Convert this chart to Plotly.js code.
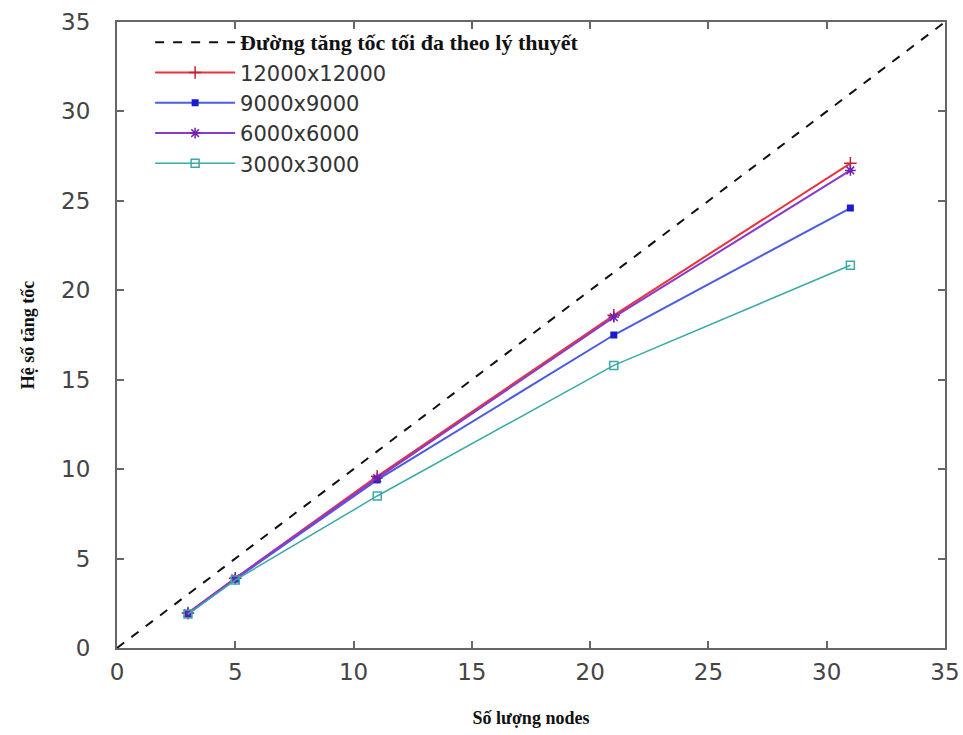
<!DOCTYPE html>
<html><head><meta charset="utf-8">
<script src="https://cdn.plot.ly/plotly-3.0.1.min.js"></script>
<style>body{margin:0;background:#fff}#c{width:963px;height:735px}</style>
</head><body><div id="c"></div>
<script>
const nodes = [3, 5, 11, 21, 31];
const idealX = [0, 35];
const idealY = [0, 35];
const s12000 = [1.95, 3.9, 9.6, 18.6, 27.1];
const s9000 = [1.9, 3.85, 9.4, 17.5, 24.6];
const s6000 = [1.95, 3.9, 9.5, 18.5, 26.7];
const s3000 = [1.9, 3.8, 8.5, 15.8, 21.4];
const names = ['<span style="font-family:\'Liberation Serif\';font-weight:bold;font-size:22px;color:#111">Đường tăng tốc tối đa theo lý thuyết</span>',
  '12000x12000', '9000x9000', '6000x6000', '3000x3000'];

const traces = [
  {x: idealX, y: idealY, mode: 'lines', name: names[0], line: {color: '#111', dash: 'dash', width: 2}},
  {x: nodes, y: s12000, mode: 'lines+markers', name: names[1], line: {color: '#e8343a', width: 2},
   marker: {symbol: 'cross-thin-open', size: 9, color: '#c02030', line: {width: 1.5, color: '#c02030'}}},
  {x: nodes, y: s9000, mode: 'lines+markers', name: names[2], line: {color: '#4a5ce0', width: 2},
   marker: {symbol: 'square', size: 7, color: '#1a1ad0'}},
  {x: nodes, y: s6000, mode: 'lines+markers', name: names[3], line: {color: '#8a3ad0', width: 2},
   marker: {symbol: 'asterisk-open', size: 9, color: '#7020b0', line: {width: 1.5, color: '#7020b0'}}},
  {x: nodes, y: s3000, mode: 'lines+markers', name: names[4], line: {color: '#3aaaa8', width: 1.5},
   marker: {symbol: 'square-open', size: 8, color: '#3aaaa8', line: {width: 1.5, color: '#3aaaa8'}}}
];

const axisCommon = {
  range: [0, 35], dtick: 5, showgrid: false, zeroline: false,
  showline: true, linecolor: '#666', linewidth: 2, mirror: 'ticks',
  ticks: 'inside', ticklen: 7, tickcolor: '#666', tickwidth: 1.5,
  tickfont: {family: 'DejaVu Sans', size: 23, color: '#444'}
};

const layout = {
  width: 963, height: 735,
  margin: {l: 117, r: 18, t: 22, b: 87},
  paper_bgcolor: '#fff', plot_bgcolor: '#fff',
  showlegend: true,
  legend: {x: 0.04, y: 1.0, xanchor: 'left', yanchor: 'top', bgcolor: 'rgba(0,0,0,0)',
    font: {family: 'DejaVu Sans', size: 21, color: '#333'}, itemwidth: 80, tracegroupgap: 0},
  xaxis: Object.assign({}, axisCommon, {
    ticklabelstandoff: 2,
    title: {text: 'Số lượng nodes', font: {family: 'Liberation Serif', size: 18, color: '#111', weight: 'bold'}, standoff: 28}
  }),
  yaxis: Object.assign({}, axisCommon, {
    ticklabelstandoff: 20,
    title: {text: 'Hệ số tăng tốc', font: {family: 'Liberation Serif', size: 18, color: '#111', weight: 'bold'}, standoff: 22}
  })
};

Plotly.newPlot('c', traces, layout, {displayModeBar: false});
</script></body></html>
